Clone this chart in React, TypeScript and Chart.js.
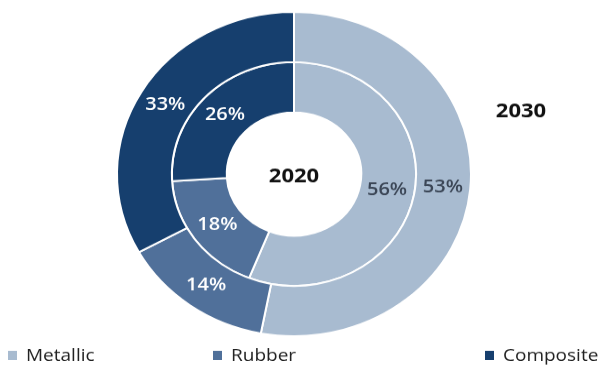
import React, { useEffect, useRef } from "react";
import { Chart, registerables } from "chart.js";

Chart.register(...registerables);

const categories = ["Metallic", "Rubber", "Composite"];
const values2030 = [53, 14, 33];
const values2020 = [56, 18, 26];
const colors = ["#a8bbd0", "#50709a", "#163f6e"];
const labelColors = ["#3b4656", "#ffffff", "#ffffff"];
const legendX = [8, 213, 485];

const SY = 0.916; // vertical squash of the reference picture
const H = Math.round(366 / SY);

export default function App() {
  const ref = useRef<HTMLCanvasElement | null>(null);

  useEffect(() => {
    document.body.style.margin = "0";
    const canvas = ref.current!;
    const font = "'Open Sans', 'DejaVu Sans', sans-serif";

    const textPlugin = {
      id: "texts",
      afterDatasetsDraw(chart: any) {
        const ctx = chart.ctx;
        ctx.save();
        ctx.textAlign = "center";
        ctx.textBaseline = "middle";
        chart.data.datasets.forEach((ds: any, di: number) => {
          const meta = chart.getDatasetMeta(di);
          meta.data.forEach((arc: any, i: number) => {
            const p = arc.tooltipPosition();
            ctx.fillStyle = labelColors[i];
            ctx.font = `600 20px ${font}`;
            ctx.fillText(`${ds.data[i]}%`, p.x, p.y);
          });
        });
        const m = chart.getDatasetMeta(1).data[0];
        ctx.fillStyle = "#111111";
        ctx.font = `bold 22px ${font}`;
        ctx.fillText("2020", m.x, m.y + 3);
        ctx.fillText("2030", 521, 122);
        // legend
        ctx.textAlign = "left";
        ctx.font = `19px ${font}`;
        categories.forEach((c, i) => {
          ctx.fillStyle = colors[i];
          ctx.fillRect(legendX[i], 383, 9, 10);
          ctx.fillStyle = "#222222";
          ctx.fillText(c, legendX[i] + 18, 389);
        });
        ctx.restore();
      },
    };

    const chart = new Chart(canvas, {
      type: "doughnut",
      data: {
        labels: categories,
        datasets: [
          { label: "2030", data: values2030, backgroundColor: colors, borderColor: "#ffffff", borderWidth: 2 },
          { label: "2020", data: values2020, backgroundColor: colors, borderColor: "#ffffff", borderWidth: 2 },
        ],
      },
      options: {
        responsive: false,
        animation: false,
        cutout: "38%",
        layout: { padding: { top: 12, left: 0, right: 25, bottom: H - 368 } },
        plugins: {
          legend: { display: false },
          tooltip: { enabled: false },
        },
      },
      plugins: [textPlugin],
    });
    return () => chart.destroy();
  }, []);

  return (
    <div style={{ position: "absolute", left: 0, top: 0, width: 613, height: 366, overflow: "hidden", background: "#fff" }}>
      <div style={{ transform: `scale(1, ${SY})`, transformOrigin: "0 0", width: 613, height: H }}>
        <canvas ref={ref} width={613} height={H} style={{ width: 613, height: H, display: "block" }} />
      </div>
    </div>
  );
}
